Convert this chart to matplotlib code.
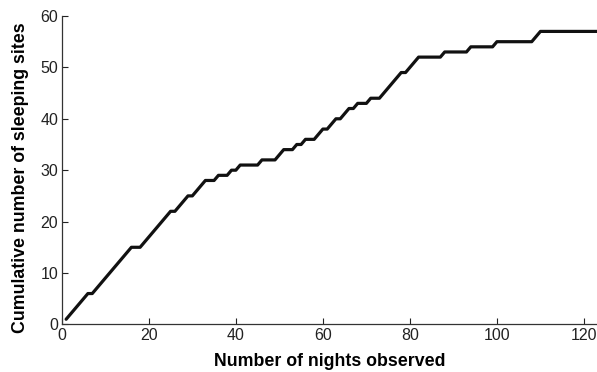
import matplotlib
matplotlib.use("Agg")
import matplotlib.pyplot as plt
import numpy as np

plt.rcParams['font.family'] = ['Liberation Sans', 'DejaVu Sans']

nights = list(range(1, 125))
cumulative_sites = (
    [1, 2, 3, 4, 5, 6, 6,                      # 1-7
     7, 8, 9, 10, 11, 12, 13, 14, 15,          # 8-16
     15, 15,                                   # 17-18
     16, 17, 18, 19, 20, 21, 22, 22,           # 19-26
     23, 24, 25, 25,                           # 27-30
     26, 27, 28, 28, 28,                       # 31-35
     29, 29, 29, 30, 30,                       # 36-40
     31, 31, 31, 31, 31,                       # 41-45
     32, 32, 32, 32,                           # 46-49
     33, 34, 34, 34,                           # 50-53
     35, 35, 36, 36, 36,                       # 54-58
     37, 38, 38, 39, 40, 40, 41, 42, 42,       # 59-67
     43, 43, 43, 44, 44, 44,                   # 68-73
     45, 46, 47, 48, 49, 49,                   # 74-79
     50, 51, 52, 52, 52, 52, 52, 52,           # 80-87
     53, 53, 53, 53, 53, 53,                   # 88-93
     54, 54, 54, 54, 54, 54,                   # 94-99
     55, 55, 55, 55, 55, 55, 55, 55, 55,       # 100-108
     56]                                       # 109
    + [57] * 15                                # 110-124
)

x_ticks = [0, 20, 40, 60, 80, 100, 120]
y_ticks = [0, 10, 20, 30, 40, 50, 60]

fig = plt.figure(figsize=(5.97, 3.72), dpi=100)
ax = fig.add_axes([0.1035, 0.128, 0.8965, 0.829])
ax.plot(nights, cumulative_sites, color='#111111', linewidth=2.3,
        solid_joinstyle='round', solid_capstyle='round', clip_on=True)

ax.set_xlim(0, 123)
ax.set_ylim(0, 60)
ax.set_xticks(x_ticks)
ax.set_yticks(y_ticks)
ax.spines['top'].set_visible(False)
ax.spines['right'].set_visible(False)
for s in ('left', 'bottom'):
    ax.spines[s].set_color('#333333')
    ax.spines[s].set_linewidth(0.9)
ax.tick_params(direction='in', length=4, width=0.8, labelsize=11.5,
               colors='#222222', pad=2.5)

ax.set_xlabel('Number of nights observed', fontsize=12.8, fontweight='bold',
              labelpad=7)
ax.set_ylabel('Cumulative number of sleeping sites', fontsize=12.8,
              fontweight='bold')
ax.yaxis.set_label_coords(-0.062, 0.475)

fig.savefig('out.png', dpi=100)
